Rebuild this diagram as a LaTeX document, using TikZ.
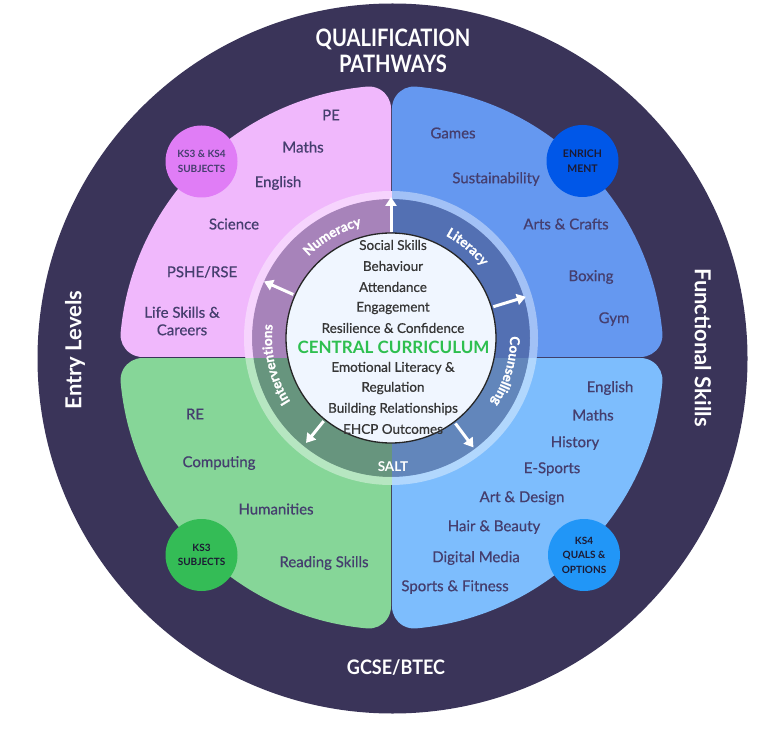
\documentclass[tikz,border=0pt]{standalone}
\usepackage{fontspec}
\setmainfont{Lato}
\newfontfamily\medfont[FakeBold=0.6]{Lato}
\newfontfamily\ringfam[FakeBold=1.2]{Lato}
\usetikzlibrary{arrows.meta,decorations.text}
\definecolor{bgdark}{HTML}{3A3459}
\definecolor{pinkq}{HTML}{F0B8FC}
\definecolor{blueq}{HTML}{6598F0}
\definecolor{greenq}{HTML}{86D698}
\definecolor{lblueq}{HTML}{7DBDFD}
\definecolor{bpink}{HTML}{E07DF6}
\definecolor{bblue}{HTML}{0057E8}
\definecolor{bgreen}{HTML}{34BC56}
\definecolor{blblue}{HTML}{2196F7}
\definecolor{qtext}{HTML}{453E6E}
\definecolor{ctext}{HTML}{363636}
\definecolor{cgreen}{HTML}{2EBF4F}
\definecolor{corefill}{HTML}{F0F6FF}
\definecolor{badgetext}{HTML}{1C1A33}
\newcommand\quadshape{(-0.5,0.5) -- (-0.5,248.985) arc[start angle=0,end angle=95.164,radius=22] arc[start angle=95.164,end angle=174.836,radius=272] arc[start angle=174.836,end angle=270,radius=22] -- cycle}
\newcommand\ringfont{\ringfam\fontsize{13.5}{15}\selectfont\bfseries}
\tikzset{
  qlabel/.style={text=qtext, font=\medfont\fontsize{15}{17.5}\selectfont, align=center, inner sep=0},
  clabel/.style={text=ctext, font=\medfont\fontsize{13.5}{16}\selectfont, inner sep=0},
  badge/.style={circle, minimum size=72, inner sep=0, text=badgetext, align=center, font=\fontsize{10}{14.5}\selectfont\bfseries},
  sidetitle/.style={text=white, font=\fontsize{22}{26}\selectfont\bfseries, inner sep=0},
  ringarrow/.style={draw=white, line width=3pt, -{Triangle[length=9pt,width=11pt]}},
  ringtext/.style={font=\ringfont, text=white, decorate, decoration={text along path, text align=center}},
}
\begin{document}
\begin{tikzpicture}[x=1pt,y=1pt]
\useasboundingbox (0,0) rectangle (778,729);
\fill[white] (0,0) rectangle (778,729);
\node[circle, fill=bgdark, minimum size=710, inner sep=0] (outer) at (392.5,370.5) {};
% quadrants
\begin{scope}[shift={(391.5,371.5)}]
  \fill[pinkq] \quadshape;
  \fill[blueq, rotate=-90] \quadshape;
  \fill[lblueq, rotate=180] \quadshape;
  \fill[greenq, rotate=90] \quadshape;
\end{scope}
% ring base
\coordinate (C1) at (391,391);
\begin{scope}
  \clip (C1) circle (147);
  \fill[pinkq] (391.5,371.5) rectangle (200,600);
  \fill[blueq] (391.5,371.5) rectangle (600,600);
  \fill[greenq] (391.5,371.5) rectangle (200,200);
  \fill[lblueq] (391.5,371.5) rectangle (600,200);
\end{scope}
\fill[bgdark, fill opacity=0.4, even odd rule] (C1) circle (139) (C1) circle (105);
\fill[white, fill opacity=0.4, even odd rule] (C1) circle (147) (C1) circle (139);
\node[circle, fill=corefill, draw=black!85, line width=1.3pt, minimum size=210, inner sep=0] (core) at (C1) {};
% ring labels
\path[ringtext, decoration={text={|\ringfont\color{white}|Numeracy}}] ([shift={(153:116)}]C1) arc[start angle=153,end angle=87,radius=116];
\path[ringtext, decoration={text={|\ringfont\color{white}|Literacy}}] ([shift={(83:116)}]C1) arc[start angle=83,end angle=17,radius=116];
\path[ringtext, decoration={text={|\ringfont\color{white}|Counselling}}] ([shift={(30:119)}]C1) arc[start angle=30,end angle=-62,radius=119];
\path[ringtext, decoration={text={|\ringfont\color{white}|Interventions}}] ([shift={(240:119)}]C1) arc[start angle=240,end angle=146,radius=119];
\node[text=white, font=\fontsize{13.5}{15}\selectfont\bfseries, inner sep=0] (salt) at (393,262) {SALT};
% arrows
\coordinate (a1s) at ([shift={(90:106)}]C1);
\coordinate (a1e) at ([shift={(90:141)}]C1);
\coordinate (a2s) at ([shift={(156:107)}]C1);
\coordinate (a2e) at ([shift={(156:139)}]C1);
\coordinate (a3s) at ([shift={(17:107)}]C1);
\coordinate (a3e) at ([shift={(17:141)}]C1);
\coordinate (a4s) at ([shift={(231:107)}]C1);
\coordinate (a4e) at ([shift={(231:135)}]C1);
\coordinate (a5s) at ([shift={(307:107)}]C1);
\coordinate (a5e) at ([shift={(307:137)}]C1);
\draw[ringarrow] (a1s) -- (a1e);
\draw[ringarrow] (a2s) -- (a2e);
\draw[ringarrow] (a3s) -- (a3e);
\draw[ringarrow] (a4s) -- (a4e);
\draw[ringarrow] (a5s) -- (a5e);
% central texts
\node[clabel] (c1) at (393,484) {Social Skills};
\node[clabel] (c2) at (393,463) {Behaviour};
\node[clabel] (c3) at (393,442) {Attendance};
\node[clabel] (c4) at (393,421) {Engagement};
\node[clabel] (c5) at (393,401) {Resilience \& Confidence};
\node[text=cgreen, font=\fontsize{17}{19}\selectfont\bfseries, inner sep=0] (c6) at (393.5,382) {CENTRAL CURRICULUM};
\node[clabel] (c7) at (393,361) {Emotional Literacy \&};
\node[clabel] (c8) at (393,341) {Regulation};
\node[clabel] (c9) at (393,320) {Building Relationships};
\node[clabel] (c10) at (393,300) {EHCP Outcomes};
% pink quadrant
\node[qlabel] (p1) at (331,614) {PE};
\node[qlabel] (p2) at (303,582) {Maths};
\node[qlabel] (p3) at (278,546) {English};
\node[qlabel] (p4) at (234,505) {Science};
\node[qlabel] (p5) at (202,457) {PSHE/RSE};
\node[qlabel] (p6) at (182,408) {Life Skills \&\\Careers};
\node[badge, fill=bpink, text=qtext] (bp) at (201.5,567.5) {KS3 \& KS4\\SUBJECTS};
% blue quadrant
\node[qlabel] (b1) at (453,596) {Games};
\node[qlabel] (b2) at (496,550) {Sustainability};
\node[qlabel] (b3) at (566,505) {Arts \& Crafts};
\node[qlabel] (b4) at (591,452) {Boxing};
\node[qlabel] (b5) at (614,410) {Gym};
\node[badge, fill=bblue, font=\fontsize{10.5}{15}\selectfont\bfseries] (bb) at (582.5,568) {ENRICH\\MENT};
% green quadrant
\node[qlabel] (g1) at (195,315) {RE};
\node[qlabel] (g2) at (219,266) {Computing};
\node[qlabel] (g3) at (276,220) {Humanities};
\node[qlabel] (g4) at (324,166) {Reading Skills};
\node[badge, fill=bgreen] (bg) at (201.5,174) {KS3\\SUBJECTS};
% light blue quadrant
\node[qlabel] (l1) at (610,341) {English};
\node[qlabel] (l2) at (593,314) {Maths};
\node[qlabel] (l3) at (575,286) {History};
\node[qlabel] (l4) at (552,260) {E-Sports};
\node[qlabel] (l5) at (522,231) {Art \& Design};
\node[qlabel] (l6) at (494,202) {Hair \& Beauty};
\node[qlabel] (l7) at (476,171) {Digital Media};
\node[qlabel] (l8) at (455,142) {Sports \& Fitness};
\node[badge, fill=blblue] (bl) at (584,174) {KS4\\QUALS \&\\OPTIONS};
% outer titles
\node[text=white, font=\fontsize{24}{26}\selectfont\bfseries, align=center, inner sep=0] (top) at (393,678) {\scalebox{0.84}[1]{QUALIFICATION}\\\scalebox{0.84}[1]{PATHWAYS}};
\node[text=white, font=\fontsize{20}{24}\selectfont\bfseries, inner sep=0] (bottom) at (396,61) {\scalebox{0.9}[1]{GCSE/BTEC}};
\node[sidetitle, rotate=90] (left) at (75,379) {Entry Levels};
\node[sidetitle, rotate=-90] (right) at (703,381.5) {Functional Skills};
\end{tikzpicture}
\end{document}
